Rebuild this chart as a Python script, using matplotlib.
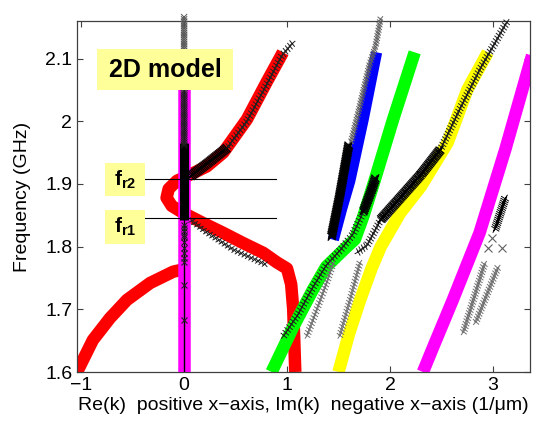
import matplotlib
matplotlib.use('Agg')
import matplotlib.pyplot as plt
import matplotlib.patheffects as pe
from matplotlib.patches import Rectangle
import numpy as np

plt.rcParams['font.family'] = ['Liberation Sans', 'DejaVu Sans']
plt.rcParams['mathtext.fontset'] = 'custom'
plt.rcParams['mathtext.rm'] = 'Liberation Sans'
plt.rcParams['mathtext.bf'] = 'Liberation Sans:bold'

# dispersion branches: x = Re(k) (positive side) / Im(k) (negative side) in 1/um, y = GHz
red_low_x = [-1.07, -0.886, -0.72, -0.555, -0.33, -0.107, 0.0]
red_low_y = [1.59, 1.651, 1.686, 1.715, 1.742, 1.76, 1.764]

red_x = [0.96, 0.8, 0.61, 0.38, 0.22, 0.06, -0.07, -0.15, -0.17, -0.12, -0.01,
         0.18, 0.38, 0.57, 0.77, 0.9, 1.0, 1.04, 1.06, 1.08]
red_y = [2.11, 2.062, 2.003, 1.95, 1.928, 1.915, 1.905, 1.892, 1.878, 1.865, 1.854,
         1.838, 1.822, 1.806, 1.79, 1.775, 1.765, 1.74, 1.70, 1.60]

mag0_x = [0, 0]
mag0_y = [1.6, 2.10]

blue_x = [1.45, 1.53, 1.61, 1.74, 1.87]
blue_y = [1.811, 1.86, 1.905, 2.003, 2.11]

green_x = [0.85, 1.06, 1.25, 1.38, 1.55, 1.66, 1.74, 1.84, 2.03, 2.24]
green_y = [1.6, 1.672, 1.731, 1.768, 1.795, 1.812, 1.848, 1.9, 2.003, 2.11]

yellow_x = [1.50, 1.60, 1.71, 1.82, 1.91, 2.10, 2.30, 2.56, 2.75, 2.95]
yellow_y = [1.6, 1.66, 1.715, 1.765, 1.80, 1.854, 1.896, 1.966, 2.05, 2.11]

mag_x = [2.32, 2.42, 2.61, 2.87, 3.12, 3.38]
mag_y = [1.6, 1.64, 1.715, 1.822, 1.955, 2.105]

# solutions of the full model (x markers)
k0_y = [1.6, 2.06]
k0_dense_y = [1.843, 1.966]
k0_top_y = [2.05, 2.168]
k0_pts_y = [1.830, 1.819, 1.808, 1.798, 1.790, 1.782, 1.776, 1.739, 1.683, 1.835, 1.825, 1.815]

red_up_cx = [0.06, 0.22, 0.42, 0.61, 0.8, 0.95, 1.06]
red_up_cy = [1.912, 1.932, 1.958, 2.0, 2.058, 2.105, 2.126]
red_dn_cx = [0.06, 0.2, 0.48, 0.8]
red_dn_cy = [1.843, 1.825, 1.795, 1.771]

blue_cx = [1.43, 1.51, 1.60]
blue_cy = [1.815, 1.88, 1.963]
blue_top_cx = [1.62, 1.70, 1.80, 1.86, 1.91]
blue_top_cy = [1.966, 2.02, 2.09, 2.12, 2.165]

green_cx = [0.96, 1.1, 1.25, 1.38, 1.52, 1.64, 1.74, 1.82, 1.86]
green_cy = [1.656, 1.69, 1.735, 1.77, 1.795, 1.82, 1.855, 1.89, 1.91]

grey1_x = [1.19, 1.29, 1.39, 1.45]
grey1_y = [1.656, 1.70, 1.745, 1.775]
grey2_x = [1.51, 1.62, 1.71]
grey2_y = [1.656, 1.72, 1.776]

yellow_cx = [1.68, 1.78, 1.91, 2.10, 2.30, 2.49, 2.68, 2.88, 3.02, 3.14]
yellow_cy = [1.79, 1.803, 1.843, 1.878, 1.915, 1.955, 2.02, 2.085, 2.125, 2.16]

mag_cx = [3.02, 3.12]
mag_cy = [1.827, 1.878]
mag_pts_x = [2.99, 2.95, 3.09]
mag_pts_y = [1.814, 1.798, 1.798]
greyA_x = [2.71, 2.92]
greyA_y = [1.662, 1.774]
greyB_x = [2.83, 3.05]
greyB_y = [1.678, 1.768]

f_r1 = 1.846
f_r2 = 1.908


def band(ax, x, y, color, lw=9, z=2):
    ax.plot(x, y, color=color, lw=lw, solid_capstyle='butt', solid_joinstyle='round', zorder=z)


def xs(ax, x, y, color='#202020', spacing=2.2, size=2.2, lw=0.7, tilt=90, z=5, clip=True):
    # string of x markers along a path, drawn as ticks on both sides
    fx = [pe.TickedStroke(spacing=spacing, angle=a - tilt, length=size / spacing)
          for a in (45, 135, -45, -135)]
    ax.plot(x, y, color=color, lw=lw, path_effects=fx, zorder=z, clip_on=clip)


fig = plt.figure(figsize=(5.42, 4.25), dpi=100)
ax = fig.add_axes([0.1421, 0.1247, 0.8358, 0.8259])

band(ax, red_low_x, red_low_y, 'red')
band(ax, red_x, red_y, 'red')
band(ax, mag0_x, mag0_y, '#ff00ff', z=3)
band(ax, blue_x, blue_y, 'blue', lw=8)
band(ax, green_x, green_y, '#00ff00')
band(ax, yellow_x, yellow_y, '#ffff00')
band(ax, mag_x, mag_y, '#ff00ff')

# k = 0 line
ax.plot([0, 0], k0_y, color='black', lw=1.0, zorder=5)
ax.plot([0, 0], k0_dense_y, color='black', lw=6.5, solid_capstyle='butt', zorder=5)
xs(ax, [0, 0], [1.96, 2.06], spacing=1.6, size=3.0)
xs(ax, [0, 0], k0_top_y, color='#555555', spacing=1.6, size=2.8, clip=False)
ax.plot(np.zeros(len(k0_pts_y)), k0_pts_y, 'x', color='#202020', ms=5, mew=0.8, zorder=5)

xs(ax, red_up_cx[:3], red_up_cy[:3], color='black', spacing=1.2, size=3.5, lw=1.0, tilt=40)
xs(ax, red_up_cx[2:], red_up_cy[2:], spacing=2.4, size=2.6, tilt=55)
xs(ax, red_dn_cx, red_dn_cy, spacing=2.6, size=2.4, tilt=-20)

xs(ax, blue_cx, blue_cy, color='black', spacing=1.2, size=3.5, lw=1.0, tilt=75)
xs(ax, blue_top_cx, blue_top_cy, color='#606060', spacing=2.0, size=2.4, tilt=75, clip=False)

xs(ax, green_cx, green_cy, spacing=2.4, size=2.6, tilt=50)
xs(ax, green_cx[-3:], green_cy[-3:], color='black', spacing=1.2, size=3.5, lw=1.0, tilt=70)
xs(ax, grey1_x, grey1_y, color='#707070', spacing=2.2, size=2.4, tilt=60)
xs(ax, grey2_x, grey2_y, color='#707070', spacing=2.2, size=2.4, tilt=65)

xs(ax, yellow_cx, yellow_cy, spacing=2.2, size=2.6, tilt=55, clip=False)
xs(ax, yellow_cx[2:6], yellow_cy[2:6], color='black', spacing=1.2, size=3.5, lw=1.0, tilt=45)

xs(ax, mag_cx, mag_cy, color='black', spacing=1.4, size=3.0, tilt=60)
ax.plot(mag_pts_x, mag_pts_y, 'x', color='#606060', ms=6, mew=0.8, zorder=5)
xs(ax, greyA_x, greyA_y, color='#707070', spacing=2.0, size=2.6, tilt=65)
xs(ax, greyB_x, greyB_y, color='#707070', spacing=2.0, size=2.6, tilt=65)

# resonance frequencies
ax.plot([-0.38, 0.89], [f_r2, f_r2], color='black', lw=0.8, zorder=6)
ax.plot([-0.38, 0.89], [f_r1, f_r1], color='black', lw=0.8, zorder=6)

box_c = '#ffff99'
ax.add_patch(Rectangle((-0.845, 2.05), 1.32, 0.065, facecolor=box_c, edgecolor='none', zorder=7))
ax.text(-0.185, 2.082, '2D model', fontsize=18, fontweight='bold', ha='center', va='center', zorder=8)
ax.add_patch(Rectangle((-0.767, 1.880), 0.388, 0.053, facecolor=box_c, edgecolor='none', zorder=7))
ax.text(-0.573, 1.907, r'$\mathbf{f}_{\mathbf{r2}}$', fontsize=15, ha='center', va='center', zorder=8)
ax.add_patch(Rectangle((-0.767, 1.805), 0.388, 0.054, facecolor=box_c, edgecolor='none', zorder=7))
ax.text(-0.573, 1.832, r'$\mathbf{f}_{\mathbf{r1}}$', fontsize=15, ha='center', va='center', zorder=8)

ax.set_xlim(-1.04, 3.36)
ax.set_ylim(1.6, 2.16)
ax.set_xticks([-1, 0, 1, 2, 3])
ax.set_yticks([1.6, 1.7, 1.8, 1.9, 2.0, 2.1])
ax.set_yticklabels(['1.6', '1.7', '1.8', '1.9', '2', '2.1'])
ax.tick_params(direction='in', top=True, right=True, labelsize=14, length=4, color='#404040')
for s in ax.spines.values():
    s.set_color('#404040')
    s.set_linewidth(0.9)
ax.set_xlabel('Re(k)  positive x\u2212axis, Im(k)  negative x\u2212axis (1/\u03bcm)', fontsize=14, labelpad=2)
ax.set_ylabel('Frequency (GHz)', fontsize=14, labelpad=10)

fig.savefig('out.png', dpi=100)
